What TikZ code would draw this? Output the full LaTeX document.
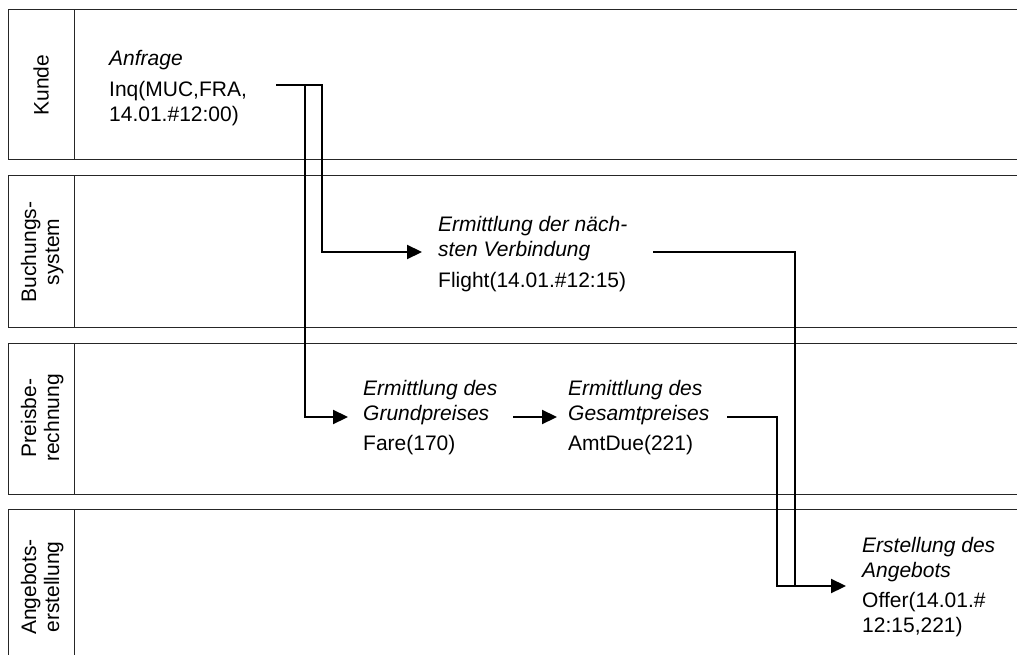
\documentclass[tikz,border=0pt]{standalone}
\usepackage{fontspec}
\setmainfont{Liberation Sans}
\usetikzlibrary{arrows.meta}
\newcommand\tblock[1]{\begin{tabular}[t]{@{}l@{}}#1\end{tabular}}
\newcommand\cblock[1]{\begin{tabular}{@{}c@{}}#1\end{tabular}}
\begin{document}
\begin{tikzpicture}[x=1pt,y=-1pt,
  lane/.style={line width=1pt, draw=black!85},
  flow/.style={line width=2.2pt, draw=black},
  arr/.style={flow, -{Triangle[length=15pt,width=14pt]}},
  txt/.style={inner sep=0pt, anchor=base west, font=\fontsize{21}{25}\selectfont},
  lbl/.style={inner sep=0pt, rotate=90, anchor=center, font=\fontsize{21}{23}\selectfont}]
\useasboundingbox (0,0) rectangle (1017,655);
% swimlanes
\foreach \t/\b in {10/160,176/327,343/494,509/665}{
  \draw[lane] (1030,\t) -- (8,\t) -- (8,\b) -- (1030,\b);
  \draw[lane] (74,\t) -- (74,\b);
}
\node[lbl] (l1) at (41,85) {Kunde};
\node[lbl] (l2) at (43,252) {\cblock{Buchungs-\\system}};
\node[lbl] (l3) at (43,418) {\cblock{Preisbe-\\rechnung}};
\node[lbl] (l4) at (43,587) {\cblock{Angebots-\\erstellung}};
% activities
\node[txt] (kunde) at (109,66) {\tblock{\itshape Anfrage\\[6pt] Inq(MUC,FRA,\\ 14.01.\#12:00)}};
\node[txt] (bsys) at (438,231) {\tblock{\itshape Ermittlung der näch-\\ \itshape sten Verbindung\\[6pt] Flight(14.01.\#12:15)}};
\node[txt] (grund) at (363,395) {\tblock{\itshape Ermittlung des\\ \itshape Grundpreises\\[5pt] Fare(170)}};
\node[txt] (gesamt) at (568,395) {\tblock{\itshape Ermittlung des\\ \itshape Gesamtpreises\\[5pt] AmtDue(221)}};
\node[txt] (angebot) at (862,552) {\tblock{\itshape Erstellung des\\ \itshape Angebots\\[5pt] Offer(14.01.\#\\ 12:15,221)}};
% connector ends
\coordinate (kout) at (276,85);
\coordinate (ksplit) at (305,85);
\coordinate (bin) at (422,252);
\coordinate (bout) at (653,252);
\coordinate (gin) at (348,417);
\coordinate (gout) at (513,417);
\coordinate (sin) at (557,417);
\coordinate (sout) at (727,417);
\coordinate (ain) at (846,586);
% connectors
\draw[arr] (kout) -- (322,85) -- (322,252) -- (bin);
\draw[arr] (ksplit) -- (305,417) -- (gin);
\draw[arr] (gout) -- (sin);
\draw[arr] (sout) -- (777,417) -- (777,586) -- (ain);
\draw[flow] (bout) -- (795,252) -- (795,586);
\end{tikzpicture}
\end{document}
